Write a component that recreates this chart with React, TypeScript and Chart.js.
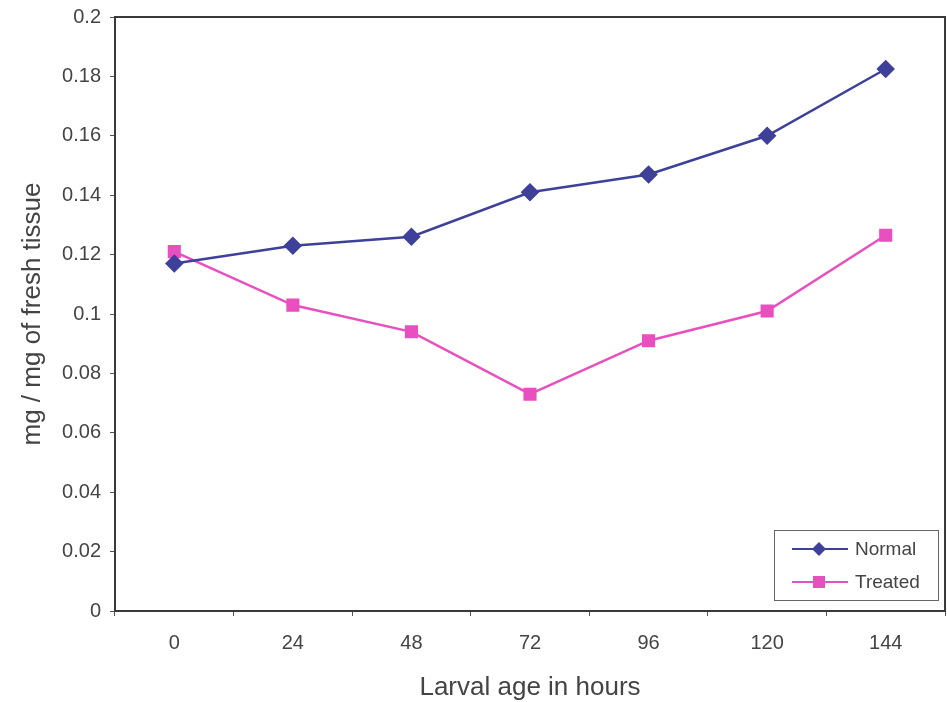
import React, { useEffect, useRef } from "react";
import { Chart, registerables } from "chart.js";

Chart.register(...registerables);

const categories = ["0", "24", "48", "72", "96", "120", "144"];
const normalValues = [0.117, 0.123, 0.126, 0.141, 0.147, 0.160, 0.1825];
const treatedValues = [0.121, 0.103, 0.094, 0.073, 0.091, 0.101, 0.1265];
const seriesNames = ["Normal", "Treated"];
const seriesColors = ["#3e4099", "#e84fbf"];
const yTitle = "mg / mg of fresh tissue";
const xTitle = "Larval age in hours";

const FONT = "'Liberation Sans', Arial, sans-serif";

const framePlugin = {
  id: "frame",
  afterDatasetsDraw(chart: any) {
    const { ctx, chartArea } = chart;
    ctx.save();
    ctx.strokeStyle = "#3a3a3a";
    ctx.lineWidth = 2;
    ctx.strokeRect(chartArea.left, chartArea.top, chartArea.right - chartArea.left, chartArea.bottom - chartArea.top);
    ctx.restore();
  },
  afterDraw(chart: any) {
    const { ctx } = chart;
    const bx = 774, by = 530, bw = 164, bh = 70;
    ctx.save();
    ctx.fillStyle = "#ffffff";
    ctx.fillRect(bx, by, bw, bh);
    ctx.strokeStyle = "#666";
    ctx.lineWidth = 1;
    ctx.strokeRect(bx + 0.5, by + 0.5, bw, bh);
    const rows = [
      { y: by + 19, name: seriesNames[0], color: seriesColors[0], shape: "diamond" },
      { y: by + 52, name: seriesNames[1], color: seriesColors[1], shape: "square" },
    ];
    rows.forEach((r) => {
      ctx.strokeStyle = r.color;
      ctx.lineWidth = 2;
      ctx.beginPath();
      ctx.moveTo(bx + 18, r.y);
      ctx.lineTo(bx + 74, r.y);
      ctx.stroke();
      ctx.fillStyle = r.color;
      const cx = bx + 45;
      if (r.shape === "diamond") {
        ctx.beginPath();
        ctx.moveTo(cx, r.y - 7);
        ctx.lineTo(cx + 7, r.y);
        ctx.lineTo(cx, r.y + 7);
        ctx.lineTo(cx - 7, r.y);
        ctx.closePath();
        ctx.fill();
      } else {
        ctx.fillRect(cx - 6, r.y - 6, 12, 12);
      }
      ctx.fillStyle = "#444";
      ctx.font = `19px ${FONT}`;
      ctx.textBaseline = "middle";
      ctx.textAlign = "left";
      ctx.fillText(r.name, bx + 81, r.y + 1);
    });
    ctx.restore();
  },
};

export default function App() {
  const ref = useRef<HTMLCanvasElement | null>(null);
  useEffect(() => {
    document.body.style.margin = "0";
    const canvas = ref.current!;
    const chart = new Chart(canvas, {
      type: "line",
      data: {
        labels: categories,
        datasets: [
          {
            label: seriesNames[0],
            data: normalValues,
            borderColor: seriesColors[0],
            backgroundColor: seriesColors[0],
            borderWidth: 2.5,
            pointStyle: "rectRot",
            pointRadius: 7.5,
            pointHoverRadius: 7.5,
            tension: 0,
          },
          {
            label: seriesNames[1],
            data: treatedValues,
            borderColor: seriesColors[1],
            backgroundColor: seriesColors[1],
            borderWidth: 2.5,
            pointStyle: "rect",
            pointRadius: 7.5,
            pointHoverRadius: 7.5,
            tension: 0,
          },
        ],
      },
      options: {
        animation: false,
        responsive: false,
        devicePixelRatio: 1,
        layout: { autoPadding: false, padding: { top: 17, right: 2, left: 0, bottom: 0 } },
        plugins: { legend: { display: false }, tooltip: { enabled: false } },
        scales: {
          x: {
            type: "category",
            offset: true,
            grid: { display: true, drawOnChartArea: false, offset: true, tickLength: 5, color: "#555" },
            border: { display: true, color: "#3a3a3a", width: 2 },
            ticks: { color: "#444", font: { family: FONT, size: 20 }, padding: 15 },
            title: { display: true, text: xTitle, color: "#444", font: { family: FONT, size: 26, lineHeight: 1.1 }, padding: { top: 0, bottom: 0 } },
            afterFit: (s: any) => { s.height = 91; s.paddingLeft = 0; s.paddingRight = 0; },
          },
          y: {
            min: 0,
            max: 0.2,
            grid: { display: true, drawOnChartArea: false, tickLength: 5, color: "#555" },
            border: { display: true, color: "#3a3a3a", width: 2 },
            ticks: {
              stepSize: 0.02,
              color: "#444",
              font: { family: FONT, size: 20 },
              padding: 9,
              callback: (v: any) => String(Number(Number(v).toFixed(2))),
            },
            title: { display: true, text: yTitle, color: "#444", font: { family: FONT, size: 26, lineHeight: 1.1 }, padding: { top: 19, bottom: 0 } },
            afterFit: (s: any) => { s.width = 115; s.paddingTop = 0; s.paddingBottom = 0; },
          },
        },
      },
      plugins: [framePlugin],
    });
    return () => chart.destroy();
  }, []);
  return <canvas ref={ref} width={947} height={702} style={{ display: "block" }} />;
}
